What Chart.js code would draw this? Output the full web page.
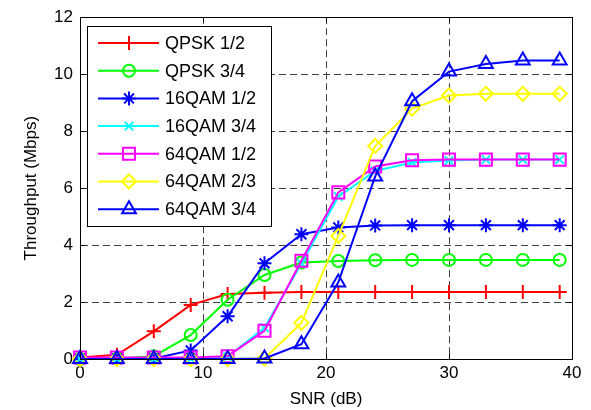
<!DOCTYPE html>
<html>
<head>
<meta charset="utf-8">
<script src="https://cdn.jsdelivr.net/npm/chart.js@4.4.0/dist/chart.umd.min.js"></script>
<style>
  html, body { margin: 0; padding: 0; background: #fff; }
  #wrap { width: 591px; height: 410px; }
</style>
</head>
<body>
<div id="wrap"><canvas id="tp-chart" width="591" height="410"></canvas></div>
<script>
// SNR sweep (dB) and throughput per modulation/coding scheme (Mbps)
const snr = [0, 3, 6, 9, 12, 15, 18, 21, 24, 27, 30, 33, 36, 39];
const qpsk12 = [0.05, 0.15, 0.97, 1.9, 2.28, 2.33, 2.35, 2.35, 2.35, 2.35, 2.35, 2.35, 2.35, 2.35];
const qpsk34 = [0, 0.02, 0.1, 0.84, 2.08, 2.95, 3.39, 3.44, 3.47, 3.48, 3.48, 3.48, 3.48, 3.48];
const qam16_12 = [0, 0, 0.02, 0.3, 1.5, 3.36, 4.38, 4.62, 4.69, 4.7, 4.7, 4.7, 4.7, 4.7];
const qam16_34 = [0, 0, 0, 0, 0.08, 1.1, 3.35, 5.7, 6.6, 6.9, 6.97, 7.0, 7.0, 7.0];
const qam64_12 = [0.05, 0.05, 0.05, 0.05, 0.1, 0.99, 3.45, 5.85, 6.76, 6.98, 7.0, 7.0, 7.0, 7.0];
const qam64_23 = [0, 0, 0, 0, 0, 0.02, 1.27, 4.32, 7.48, 8.79, 9.25, 9.31, 9.31, 9.31];
const qam64_34 = [0, 0, 0, 0, 0, 0.02, 0.52, 2.69, 6.41, 9.05, 10.09, 10.36, 10.48, 10.48];

const seriesNames = ['QPSK 1/2', 'QPSK 3/4', '16QAM 1/2', '16QAM 3/4', '64QAM 1/2', '64QAM 2/3', '64QAM 3/4'];
const seriesData = [qpsk12, qpsk34, qam16_12, qam16_34, qam64_12, qam64_23, qam64_34];
const xTicks = [0, 10, 20, 30, 40];
const yTicks = [0, 2, 4, 6, 8, 10, 12];

const colors = ['#ff0000', '#00ff00', '#0000ff', '#00ffff', '#ff00ff', '#ffff00', '#0000ff'];
const markers = ['cross', 'circle', 'star', 'crossRot', 'rect', 'rectRot', 'triangle'];
const markerSize = [7, 6, 7, 6, 8.5, 7, 8];

const FONT = '"Liberation Sans", Arial, Helvetica, sans-serif';

const datasets = seriesNames.map((name, i) => ({
    label: name,
    data: snr.map((x, j) => ({ x: x, y: seriesData[i][j] })),
    borderColor: colors[i],
    backgroundColor: 'rgba(0,0,0,0)',
    pointBorderColor: colors[i],
    pointBackgroundColor: 'rgba(0,0,0,0)',
    pointStyle: markers[i],
    pointRadius: markerSize[i],
    pointBorderWidth: 2,
    borderWidth: 2,
    tension: 0,
    clip: false,
    order: seriesNames.length - i
}));

// box, inward tick marks, legend inside the axes
const matlabAxes = {
    id: 'matlabAxes',
    afterDatasetsDraw(chart) {
        const ctx = chart.ctx;
        const a = chart.chartArea;
        const xs = chart.scales.x, ys = chart.scales.y;
        ctx.save();
        ctx.strokeStyle = '#000';
        ctx.lineWidth = 1;
        ctx.setLineDash([]);
        ctx.beginPath();
        xTicks.forEach(v => {
            const px = Math.round(xs.getPixelForValue(v)) + 0.5;
            ctx.moveTo(px, a.bottom); ctx.lineTo(px, a.bottom - 5);
            ctx.moveTo(px, a.top); ctx.lineTo(px, a.top + 5);
        });
        yTicks.forEach(v => {
            const py = Math.round(ys.getPixelForValue(v)) + 0.5;
            ctx.moveTo(a.left, py); ctx.lineTo(a.left + 5, py);
            ctx.moveTo(a.right, py); ctx.lineTo(a.right - 5, py);
        });
        ctx.stroke();
        ctx.strokeRect(Math.round(a.left) + 0.5, Math.round(a.top) + 0.5,
            Math.round(a.right - a.left), Math.round(a.bottom - a.top));

        // legend
        const bx = 87, by = 26, bw = 184, bh = 200;
        ctx.fillStyle = '#fff';
        ctx.fillRect(bx, by, bw, bh);
        ctx.strokeRect(bx + 0.5, by + 0.5, bw, bh);
        ctx.font = '18px ' + FONT;
        ctx.textBaseline = 'middle';
        ctx.textAlign = 'left';
        seriesNames.forEach((name, i) => {
            const y = 43 + i * 27.7;
            ctx.strokeStyle = colors[i];
            ctx.lineWidth = 2;
            ctx.beginPath();
            ctx.moveTo(98, y); ctx.lineTo(159, y);
            ctx.stroke();
            ctx.fillStyle = 'rgba(0,0,0,0)';
            Chart.helpers.drawPoint(ctx, {
                pointStyle: markers[i], radius: markerSize[i], rotation: 0, borderWidth: 2
            }, 129, y);
            ctx.fillStyle = '#000';
            ctx.fillText(name, 165, y + 1);
        });
        ctx.restore();
    }
};

new Chart(document.getElementById('tp-chart').getContext('2d'), {
    type: 'line',
    data: { datasets: datasets },
    options: {
        responsive: false,
        animation: false,
        layout: { padding: { left: 0, right: 19, top: 15, bottom: 0 } },
        plugins: {
            legend: { display: false },
            tooltip: { enabled: false }
        },
        scales: {
            x: {
                type: 'linear',
                min: 0,
                max: 40,
                afterFit: (s) => { s.height = 51; },
                afterBuildTicks: (s) => { s.ticks = xTicks.map(v => ({ value: v })); },
                grid: { color: '#404040', lineWidth: 1, drawTicks: false },
                border: { color: '#000', width: 1, dash: [7, 4] },
                ticks: { color: '#000', padding: 4, maxRotation: 0, font: { family: FONT, size: 17 } },
                title: {
                    display: true, text: 'SNR (dB)', color: '#000',
                    padding: { top: 0, bottom: 0 },
                    font: { family: FONT, size: 17, lineHeight: 1.2 }
                }
            },
            y: {
                type: 'linear',
                min: 0,
                max: 12,
                afterFit: (s) => { s.width = 80; },
                afterBuildTicks: (s) => { s.ticks = yTicks.map(v => ({ value: v })); },
                grid: { color: '#404040', lineWidth: 1, drawTicks: false },
                border: { color: '#000', width: 1, dash: [7, 4] },
                ticks: { color: '#000', padding: 7, font: { family: FONT, size: 17 } },
                title: {
                    display: true, text: 'Throughput (Mbps)', color: '#000',
                    padding: { top: 21, bottom: 0 },
                    font: { family: FONT, size: 17, lineHeight: 1.2 }
                }
            }
        }
    },
    plugins: [matlabAxes]
});
</script>
</body>
</html>
